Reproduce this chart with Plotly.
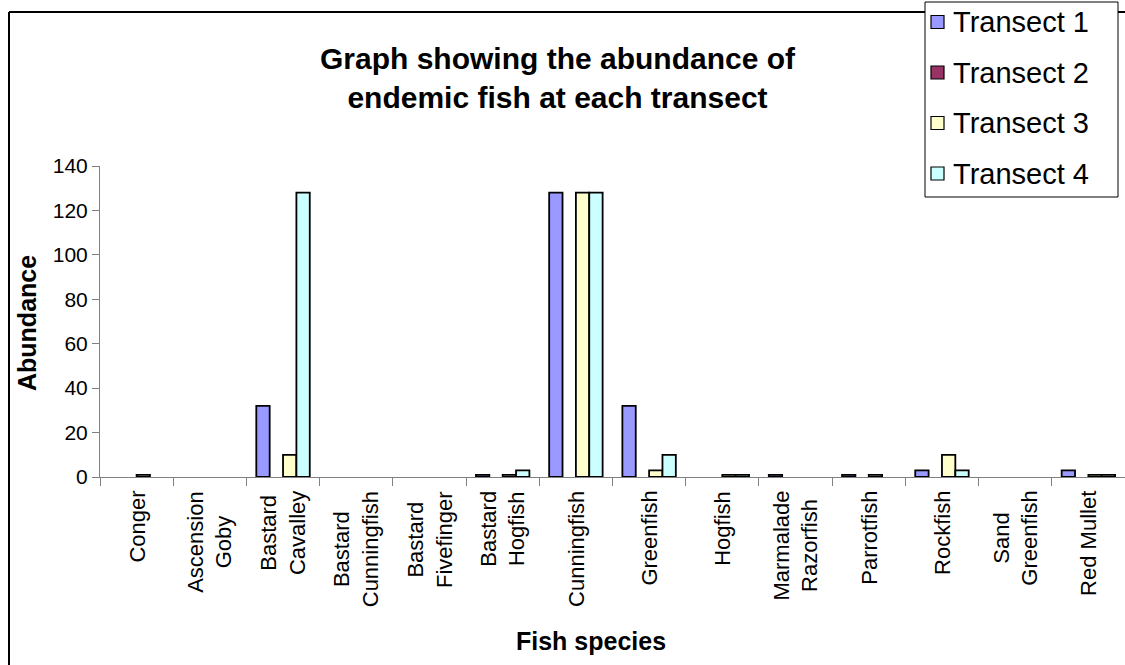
import plotly.graph_objects as go

# Endemic fish counts per species at each transect
species = [
    "Conger", "Ascension Goby", "Bastard Cavalley", "Bastard Cunningfish",
    "Bastard Fivefinger", "Bastard Hogfish", "Cunningfish", "Greenfish",
    "Hogfish", "Marmalade Razorfish", "Parrotfish", "Rockfish",
    "Sand Greenfish", "Red Mullet",
]
tick_labels = [
    "Conger", "Ascension<br>Goby", "Bastard<br>Cavalley", "Bastard<br>Cunningfish",
    "Bastard<br>Fivefinger", "Bastard<br>Hogfish", "Cunningfish", "Greenfish",
    "Hogfish", "Marmalade<br>Razorfish", "Parrotfish", "Rockfish",
    "Sand<br>Greenfish", "Red Mullet",
]
transect_1 = [0, 0, 32, 0, 0, 1, 128, 32, 0, 1, 1, 3, 0, 3]
transect_2 = [0, 0, 0, 0, 0, 0, 0, 0, 0, 0, 0, 0, 0, 0]
transect_3 = [1, 0, 10, 0, 0, 1, 128, 3, 1, 0, 1, 10, 0, 1]
transect_4 = [0, 0, 128, 0, 0, 3, 128, 10, 1, 0, 0, 3, 0, 1]

series_names = ["Transect 1", "Transect 2", "Transect 3", "Transect 4"]
series_values = [transect_1, transect_2, transect_3, transect_4]
series_colors = ["#9999FF", "#993366", "#FFFFCC", "#CCFFFF"]

title_text = "Graph showing the abundance of<br>endemic fish at each transect"
y_title = "Abundance"
x_title = "Fish species"

FONT = "Liberation Sans, Arial, sans-serif"
W, H = 1125, 665
L, R, T, B = 100, 0, 166, 188
PW, PH = W - L - R, H - T - B


def px(x):
    """Page x pixel -> paper fraction."""
    return (x - L) / PW


def py(y):
    """Page y pixel -> paper fraction."""
    return (H - B - y) / PH


fig = go.Figure()
for name, vals, col in zip(series_names, series_values, series_colors):
    fig.add_trace(go.Bar(
        x=species, y=vals, name=name,
        marker=dict(
            color=col,
            # empty counts get no outline so nothing is drawn on the axis
            line=dict(color="black", width=[1.8 if v else 0 for v in vals]),
        ),
        showlegend=False,
    ))

annotations = []
shapes = []

# category labels, rotated and centred line by line
for sp, lab in zip(species, tick_labels):
    annotations.append(dict(
        x=sp, xref="x", y=0, yref="paper", yanchor="top", xanchor="center",
        yshift=-12, text=lab, textangle=-90, align="center", showarrow=False,
        font=dict(family=FONT, size=22, color="black"),
    ))

# chart title
annotations.append(dict(
    x=px(558), y=py(78), xref="paper", yref="paper", xanchor="center",
    yanchor="middle", text="<b>" + title_text + "</b>", showarrow=False,
    align="center", font=dict(family=FONT, size=30, color="black"),
))
# axis titles
annotations.append(dict(
    x=px(27), y=py(323), xref="paper", yref="paper", xanchor="center",
    yanchor="middle", text="<b>" + y_title + "</b>", textangle=-90,
    showarrow=False, font=dict(family=FONT, size=25, color="black"),
))
annotations.append(dict(
    x=px(591), y=py(641), xref="paper", yref="paper", xanchor="center",
    yanchor="middle", text="<b>" + x_title + "</b>", showarrow=False,
    font=dict(family=FONT, size=25, color="black"),
))

# outer chart frame (left and top edges)
shapes.append(dict(type="line", xref="paper", yref="paper",
                   x0=px(9), x1=px(9), y0=py(H + 5), y1=py(12),
                   line=dict(color="black", width=2)))
shapes.append(dict(type="line", xref="paper", yref="paper",
                   x0=px(9), x1=px(W + 5), y0=py(12), y1=py(12),
                   line=dict(color="black", width=2)))

# legend box
shapes.append(dict(type="rect", xref="paper", yref="paper",
                   x0=px(925), x1=px(1118), y0=py(2), y1=py(197),
                   line=dict(color="black", width=1), fillcolor="white"))
for i, (name, col) in enumerate(zip(series_names, series_colors)):
    cy = 22 + 50.5 * i
    shapes.append(dict(type="rect", xref="paper", yref="paper",
                       x0=px(931), x1=px(944), y0=py(cy + 6.5), y1=py(cy - 6.5),
                       line=dict(color="black", width=1.2), fillcolor=col))
    annotations.append(dict(
        x=px(951), y=py(cy), xref="paper", yref="paper", xanchor="left",
        yanchor="middle", text=name, showarrow=False,
        font=dict(family=FONT, size=29, color="black"),
    ))

fig.update_layout(
    width=W, height=H,
    margin=dict(l=L, r=R, t=T, b=B, pad=0),
    paper_bgcolor="white", plot_bgcolor="white",
    barmode="group", bargap=0.27, bargroupgap=0,
    annotations=annotations, shapes=shapes,
    font=dict(family=FONT, size=21, color="black"),
)
fig.update_xaxes(
    type="category", showticklabels=False, showgrid=False,
    showline=True, linecolor="#808080", linewidth=1,
    ticks="outside", tickson="boundaries", ticklen=8,
    tickcolor="#808080", tickwidth=1, zeroline=False,
)
fig.update_yaxes(
    range=[0, 140], dtick=20, showgrid=False, zeroline=False,
    showline=True, linecolor="#808080", linewidth=1,
    ticks="outside", ticklen=7, tickcolor="#808080", tickwidth=1,
    tickfont=dict(family=FONT, size=21, color="black"),
)

fig.write_html("out.html")
